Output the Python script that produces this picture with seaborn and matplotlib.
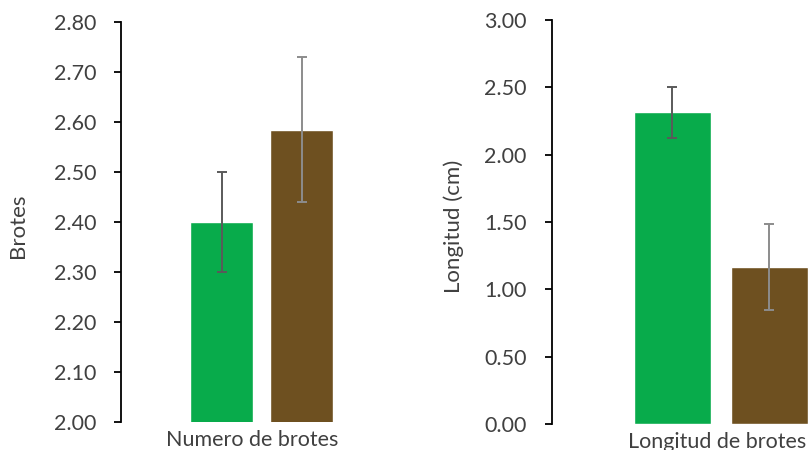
import matplotlib
matplotlib.use("Agg")
import matplotlib.pyplot as plt
import matplotlib.transforms as mtransforms
import pandas as pd
import seaborn as sns

# datos
grupos = ["Grupo 1", "Grupo 2"]
colores = ["#08ab4b", "#6e5020"]
err_colores = ["#5a5a5a", "#8c8c8c"]

brotes_cat = "Numero de brotes"
brotes_media = [2.40, 2.585]
brotes_err = [0.10, 0.145]
brotes_ticks = [2.00, 2.10, 2.20, 2.30, 2.40, 2.50, 2.60, 2.70, 2.80]

long_cat = "Longitud de brotes"
long_media = [2.314, 1.166]
long_err = [0.19, 0.317]
long_ticks = [0.00, 0.50, 1.00, 1.50, 2.00, 2.50, 3.00]

sns.set_style("white")
plt.rcParams["font.family"] = ["Lato", "DejaVu Sans"]
texto = "#404040"

fig = plt.figure(figsize=(8.09, 4.5), dpi=100)
W, H = 809, 450


def panel(rect, xlim, cat, medias, errs, ticks, ylabel, gap, label_x, dx):
    ax = fig.add_axes(rect)
    df = pd.DataFrame({"cat": [cat] * len(grupos), "val": medias, "grupo": grupos})
    sns.barplot(data=df, x="cat", y="val", hue="grupo", hue_order=grupos,
                palette=colores, errorbar=None, width=0.8, gap=gap,
                saturation=1, legend=False, ax=ax)
    for p, e, c in zip(ax.patches, errs, err_colores):
        xc = p.get_x() + p.get_width() / 2
        ax.errorbar(xc, p.get_height(), yerr=e, color=c, capsize=3.5,
                    elinewidth=1.4, capthick=1.4, fmt="none")
    ax.set_xlim(*xlim)
    ax.set_ylim(ticks[0], ticks[-1])
    ax.set_yticks(ticks)
    ax.set_yticklabels([f"{t:.2f}" for t in ticks])
    for s in ["top", "right", "bottom"]:
        ax.spines[s].set_visible(False)
    ax.spines["left"].set_color("black")
    ax.spines["left"].set_linewidth(1.3)
    ax.tick_params(axis="y", length=5, width=1.3, color="black", pad=13,
                   labelsize=15.5, labelcolor=texto, left=True)
    ax.tick_params(axis="x", length=0, pad=6, labelsize=15.5, labelcolor=texto)
    # la etiqueta de categoria queda un poco a la izquierda en el original
    off = mtransforms.ScaledTranslation(dx / 100, 0, fig.dpi_scale_trans)
    for lbl in ax.get_xticklabels():
        lbl.set_transform(lbl.get_transform() + off)
    ax.set_xlabel("")
    ax.set_ylabel(ylabel, fontsize=16, color=texto)
    ax.yaxis.set_label_coords(label_x, 0.49)
    return ax


panel([121 / W, 28 / H, 281 / W, 400 / H], (-0.7025, 0.7025), brotes_cat,
      brotes_media, brotes_err, brotes_ticks, "Brotes", 0.21, -0.33, -9)
panel([551.7 / W, 26 / H, 338.3 / W, 404 / H], (-0.698, 0.698), long_cat,
      long_media, long_err, long_ticks, "Longitud (cm)", 0.21, -0.259, -4)

fig.savefig("out.png", dpi=100)
